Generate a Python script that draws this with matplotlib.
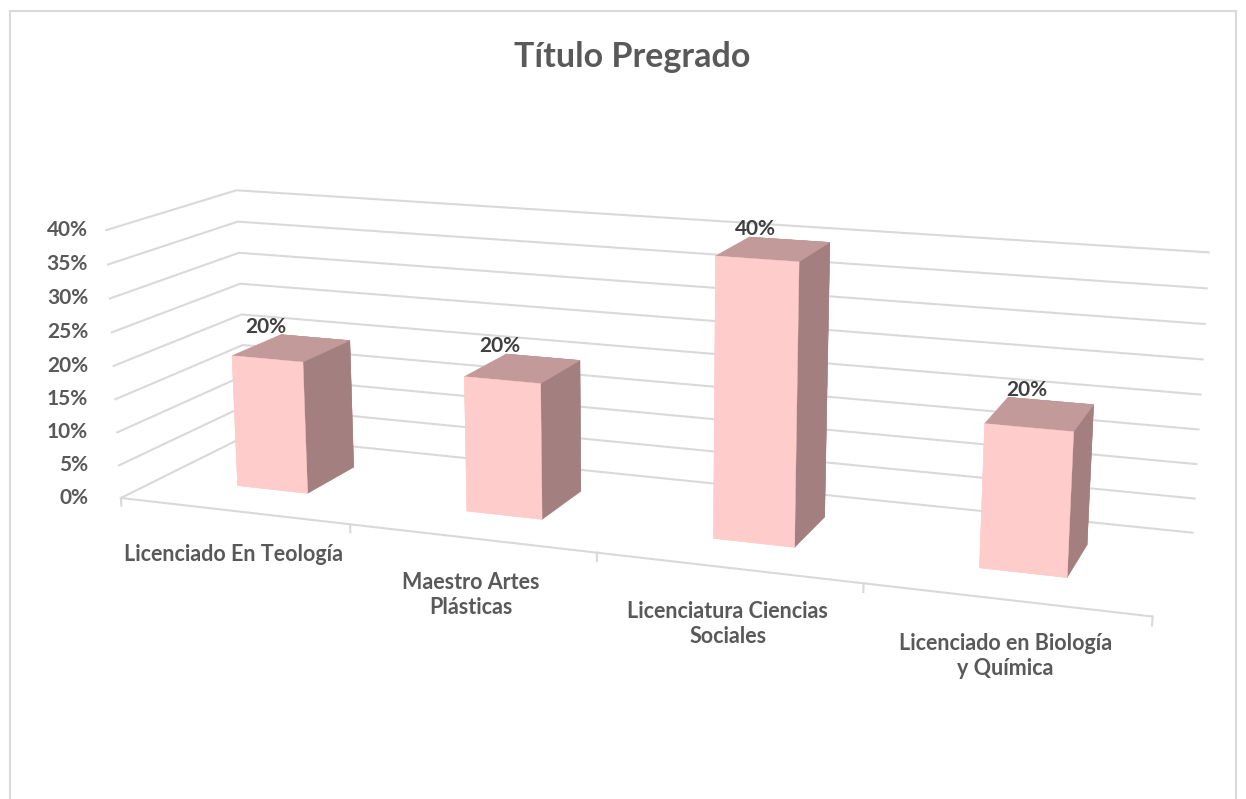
import matplotlib.pyplot as plt
from matplotlib.patches import Rectangle
from mpl_toolkits.mplot3d import proj3d

categorias = ["Licenciado En Teología", "Maestro Artes\nPlásticas",
              "Licenciatura Ciencias\nSociales", "Licenciado en Biología\ny Química"]
valores = [0.20, 0.20, 0.40, 0.20]
etiquetas = ["20%", "20%", "40%", "20%"]
ticks_y = [0, 0.05, 0.10, 0.15, 0.20, 0.25, 0.30, 0.35, 0.40]
ticks_txt = ["0%", "5%", "10%", "15%", "20%", "25%", "30%", "35%", "40%"]

plt.rcParams['font.family'] = ['Lato', 'DejaVu Sans']
gris = '#595959'
linea = '#D9D9D9'

W, H = 1246, 799
fig = plt.figure(figsize=(W / 100, H / 100), dpi=100)

# ejes 3D cuadrados; vista ajustada al estilo de columnas 3D de Excel
S, cx, cy = 1200, 627.7, 396.1
ax = fig.add_axes([(cx - S / 2) / W, (H - cy - S / 2) / H, S / W, S / H],
                  projection='3d', computed_zorder=False)
ax.set_xlim(0, 4)
ax.set_ylim(0, 1)
ax.set_zlim(0, 0.4)
ax.view_init(elev=13.9, azim=-69.82)
ax.set_proj_type('persp', focal_length=0.368)
ax.set_box_aspect((4, 0.991, 1.064), zoom=0.913)
ax.set_axis_off()

# cuadricula en la pared izquierda y la del fondo
for t in ticks_y:
    ax.plot([0, 0, 4], [0, 1, 1], [t, t, t], color=linea, lw=1.5, zorder=1, clip_on=False)

# eje de categorias con marcas
ax.plot([0, 4], [0, 0], [0, 0], color=linea, lw=1.5, zorder=1, clip_on=False)
for k in range(5):
    ax.plot([k, k], [0, 0], [0, -0.012], color=linea, lw=1.5, zorder=1, clip_on=False)

# columnas
ancho, prof, yc = 0.313, 0.402, 0.512
xs = [i + 0.5 - ancho / 2 for i in range(len(valores))]
ys = [yc - prof / 2] * len(valores)
caras = []
for v in valores:
    # -z, +z, -y, +y, -x, +x
    caras += ['#FFCCCC', '#C29A9A', '#FFCCCC', '#A37F7F', '#FFCCCC', '#A37F7F']
barras = ax.bar3d(xs, ys, [0] * len(valores), ancho, prof, valores, color=caras,
                  shade=False, edgecolor=caras, linewidth=0.3, zorder=5)
barras.set_clip_on(False)

M = ax.get_proj()

def punto(x, y, z):
    x2, y2, _ = proj3d.proj_transform(x, y, z, M)
    return x2, y2

def pix(x, y, z):
    return ax.transData.transform(punto(x, y, z))

# etiquetas del eje de valores (alineadas a la derecha en una misma columna)
for t, s in zip(ticks_y, ticks_txt):
    ax.annotate(s, punto(0, 0, t), xytext=(88, pix(0, 0, t)[1]), textcoords='figure pixels',
                ha='right', va='center', fontsize=15, fontweight='bold', color=gris,
                annotation_clip=False, zorder=10)

# etiquetas de categorias
for i, s in enumerate(categorias):
    ax.annotate(s, punto(i + 0.5, 0, 0), xytext=(0, -24), textcoords='offset points',
                ha='center', va='top', fontsize=15.5, fontweight='bold', color=gris,
                linespacing=1.25, annotation_clip=False, zorder=10)

# etiquetas de datos
for i, (v, s) in enumerate(zip(valores, etiquetas)):
    c = i + 0.5
    xf = pix(c, yc - prof / 2, v)[0]
    yb = pix(c, yc + prof / 2, v)[1]
    ax.annotate(s, punto(c, yc, v), xytext=(xf - 2, yb + 11), textcoords='figure pixels',
                ha='center', va='center', fontsize=15, fontweight='bold', color='#404040',
                annotation_clip=False, zorder=10)

fig.text(632 / W, 1 - 57 / H, "Título Pregrado", ha='center', va='center',
         fontsize=24.5, fontweight='bold', color=gris)

fig.patches.append(Rectangle((10 / W, -0.01), 1226 / W, 1 - 11 / H + 0.01,
                             transform=fig.transFigure, fill=False, edgecolor=linea, lw=1.5))

fig.savefig('out.png', dpi=100)
